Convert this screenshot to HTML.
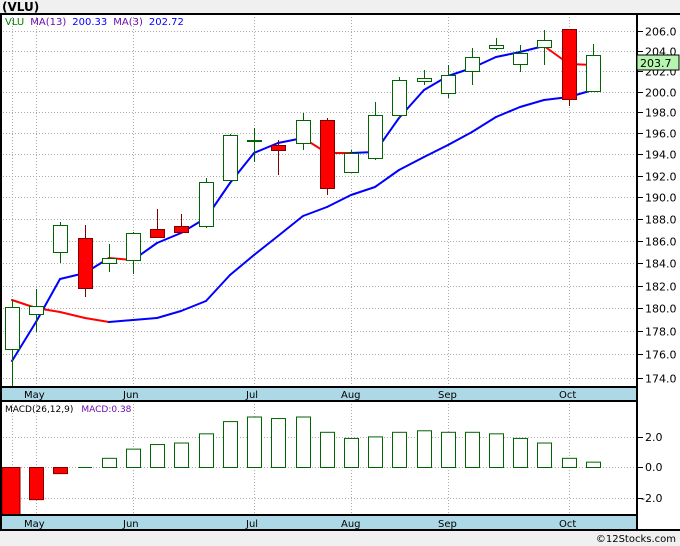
<!DOCTYPE html>
<html><head><meta charset="utf-8"><style>
body{margin:0;background:#f0f0f0;width:680px;height:546px;overflow:hidden;font-family:Tahoma,"DejaVu Sans",sans-serif}
svg{display:block}
</style></head><body>
<svg width="680" height="546" xmlns="http://www.w3.org/2000/svg" font-family="DejaVu Sans, Liberation Sans, sans-serif">
<rect width="680" height="546" fill="#f0f0f0"/>
<text x="2" y="11" font-size="12" font-weight="bold" fill="#000">(VLU)</text>
<rect x="0" y="14" width="680" height="516" fill="#fff"/>
<g id="grid" stroke="#aaa" stroke-dasharray="1,2" stroke-width="1"></g>
<rect x="0" y="387" width="637" height="14" fill="#add8e6"/>
<rect x="0" y="515" width="637" height="15" fill="#add8e6"/>
<g id="lines" fill="none"></g>
<g id="cands"></g>
<g id="macd"></g>
<g stroke="#000" stroke-width="2" fill="none">
<line x1="0" y1="14" x2="680" y2="14"/>
<line x1="637" y1="14" x2="637" y2="530"/>
<line x1="0" y1="387" x2="637" y2="387"/>
<line x1="0" y1="401" x2="637" y2="401"/>
<line x1="0" y1="515" x2="637" y2="515"/>
<line x1="0" y1="530" x2="680" y2="530"/>
<line x1="1" y1="14" x2="1" y2="530"/>
</g>
<g font-size="10" fill="#000">
<text x="24" y="398">May</text><text x="123" y="398">Jun</text><text x="246" y="398">Jul</text><text x="341" y="398">Aug</text><text x="438" y="398">Sep</text><text x="559" y="398">Oct</text>
<text x="24" y="527">May</text><text x="123" y="527">Jun</text><text x="246" y="527">Jul</text><text x="341" y="527">Aug</text><text x="438" y="527">Sep</text><text x="559" y="527">Oct</text>
</g>
<text x="5" y="25" font-size="10"><tspan fill="#008000">VLU</tspan><tspan fill="#6a0dad" dx="6">MA(13)</tspan><tspan fill="#0000ff" dx="6">200.33</tspan><tspan fill="#6a0dad" dx="6">MA(3)</tspan><tspan fill="#0000ff" dx="6">202.72</tspan></text>
<text x="5" y="412" font-size="9"><tspan fill="#000">MACD(26,12,9)</tspan><tspan fill="#6a0dad" dx="8">MACD:0.38</tspan></text>
<g id="axis" font-size="11" fill="#000"></g>
<rect x="637" y="55" width="42" height="15" fill="#b6f5b0" stroke="#000"/>
<text x="640" y="67" font-size="11">203.7</text>
<text x="676" y="542" font-size="10" text-anchor="end" fill="#000">©12Stocks.com</text>
</svg>
<script>
var NS="http://www.w3.org/2000/svg";
function el(p,t,a){var e=document.createElementNS(NS,t);for(var k in a)e.setAttribute(k,a[k]);document.getElementById(p).appendChild(e);return e;}
function yp(p){return 31+2055*Math.log(206/p);}
for(var p=174;p<=206;p+=2){var y=Math.round(yp(p))+0.5;el('grid','line',{x1:0,x2:637,y1:y,y2:y});el('axis','line',{x1:637,x2:643,y1:y,y2:y,stroke:'#000'});var t=el('axis','text',{x:645,y:y+4});t.textContent=p.toFixed(1);}
[12,36,133,254,351,448,569].forEach(function(x){el('grid','line',{x1:x+.5,x2:x+.5,y1:14,y2:387});el('grid','line',{x1:x+.5,x2:x+.5,y1:401,y2:515});});
[[-2,498],[0,467],[2,437]].forEach(function(a){el('grid','line',{x1:0,x2:637,y1:a[1]+.5,y2:a[1]+.5});el('axis','line',{x1:637,x2:643,y1:a[1]+.5,y2:a[1]+.5,stroke:'#000'});var t=el('axis','text',{x:a[0]<0?641:645,y:a[1]+4});t.textContent=a[0].toFixed(1);});
var C=[[12,307,349,300,387,0],[36,306,314,289,332,0],[60,225,252,222,263,0],[85,238,288,225,297,1],[109,258,263,244,272,0],[133,233,260,232,274,0],[157,229,237,209,238,1],[181,226,232,214,233,1],[206,182,226,178,228,0],[230,135,180,134,181,0],[254,140,141,128,162,0],[278,145,150,140,175,1],[303,120,143,113,150,0],[327,120,188,118,195,1],[351,153,172,150,172,0],[375,115,158,102,160,0],[399,80,115,77,118,0],[424,78,81,70,85,0],[448,75,93,65,98,0],[472,57,71,48,85,0],[496,45,48,38,50,0],[520,53,64,45,72,0],[544,40,47,30,65,0],[569,29,99,29,106,1],[593,55,91,44,92,0]];
C.forEach(function(c){var col=c[5]?'#800000':'#006400';el('cands','line',{x1:c[0]+.5,x2:c[0]+.5,y1:c[3],y2:c[4],stroke:col});el('cands','rect',{x:c[0]-6.5,y:c[1]+.5,width:14,height:Math.max(c[2]-c[1],1),fill:c[5]?'#ff0000':'#fff',stroke:col});});
var MA3=[[12,361],[36,322],[60,279],[85,273],[109,258],[133,260],[157,243],[181,233],[206,218],[230,183],[254,153],[278,143],[303,138],[327,153],[351,153],[375,152],[399,118],[424,90],[448,76],[472,68],[496,57],[520,52],[544,46],[569,64],[593,65]];
var MA13=[[12,300],[36,308],[60,312],[85,318],[109,322],[133,320],[157,318],[181,311],[206,301],[230,275],[254,255],[278,236],[303,216],[327,207],[351,195],[375,187],[399,170],[424,157],[448,145],[472,132],[496,117],[520,107],[544,100],[569,97],[593,90]];
[MA13,MA3].forEach(function(m){for(var i=0;i<m.length-1;i++){el('lines','line',{x1:m[i][0],y1:m[i][1],x2:m[i+1][0],y2:m[i+1][1],stroke:m[i+1][1]>=m[i][1]?'#ff0000':'#0000ff','stroke-width':2,'stroke-linecap':'round'});}});
var M=[-3.3,-2.1,-0.4,0,0.6,1.2,1.5,1.6,2.2,3.0,3.3,3.2,3.3,2.3,1.9,2.0,2.3,2.4,2.3,2.3,2.2,1.9,1.6,0.6,0.35];
M.forEach(function(v,i){var x=C[i][0];var y0=467,y1=467-v*15.3;if(y1>514)y1=514;var top=Math.min(y0,y1),h=Math.abs(y1-y0);if(h<1){el('macd','line',{x1:x-7,x2:x+7,y1:467.5,y2:467.5,stroke:'#006400'});return;}
if(i==0){el('macd','rect',{x:2,y:top+.5,width:18,height:h,fill:'#ff0000',stroke:'#800000'});return;}
el('macd','rect',{x:x-6.5,y:top+.5,width:14,height:h,fill:v<0?'#ff0000':'#fff',stroke:v<0?'#800000':'#006400'});});
</script>
</body></html>
